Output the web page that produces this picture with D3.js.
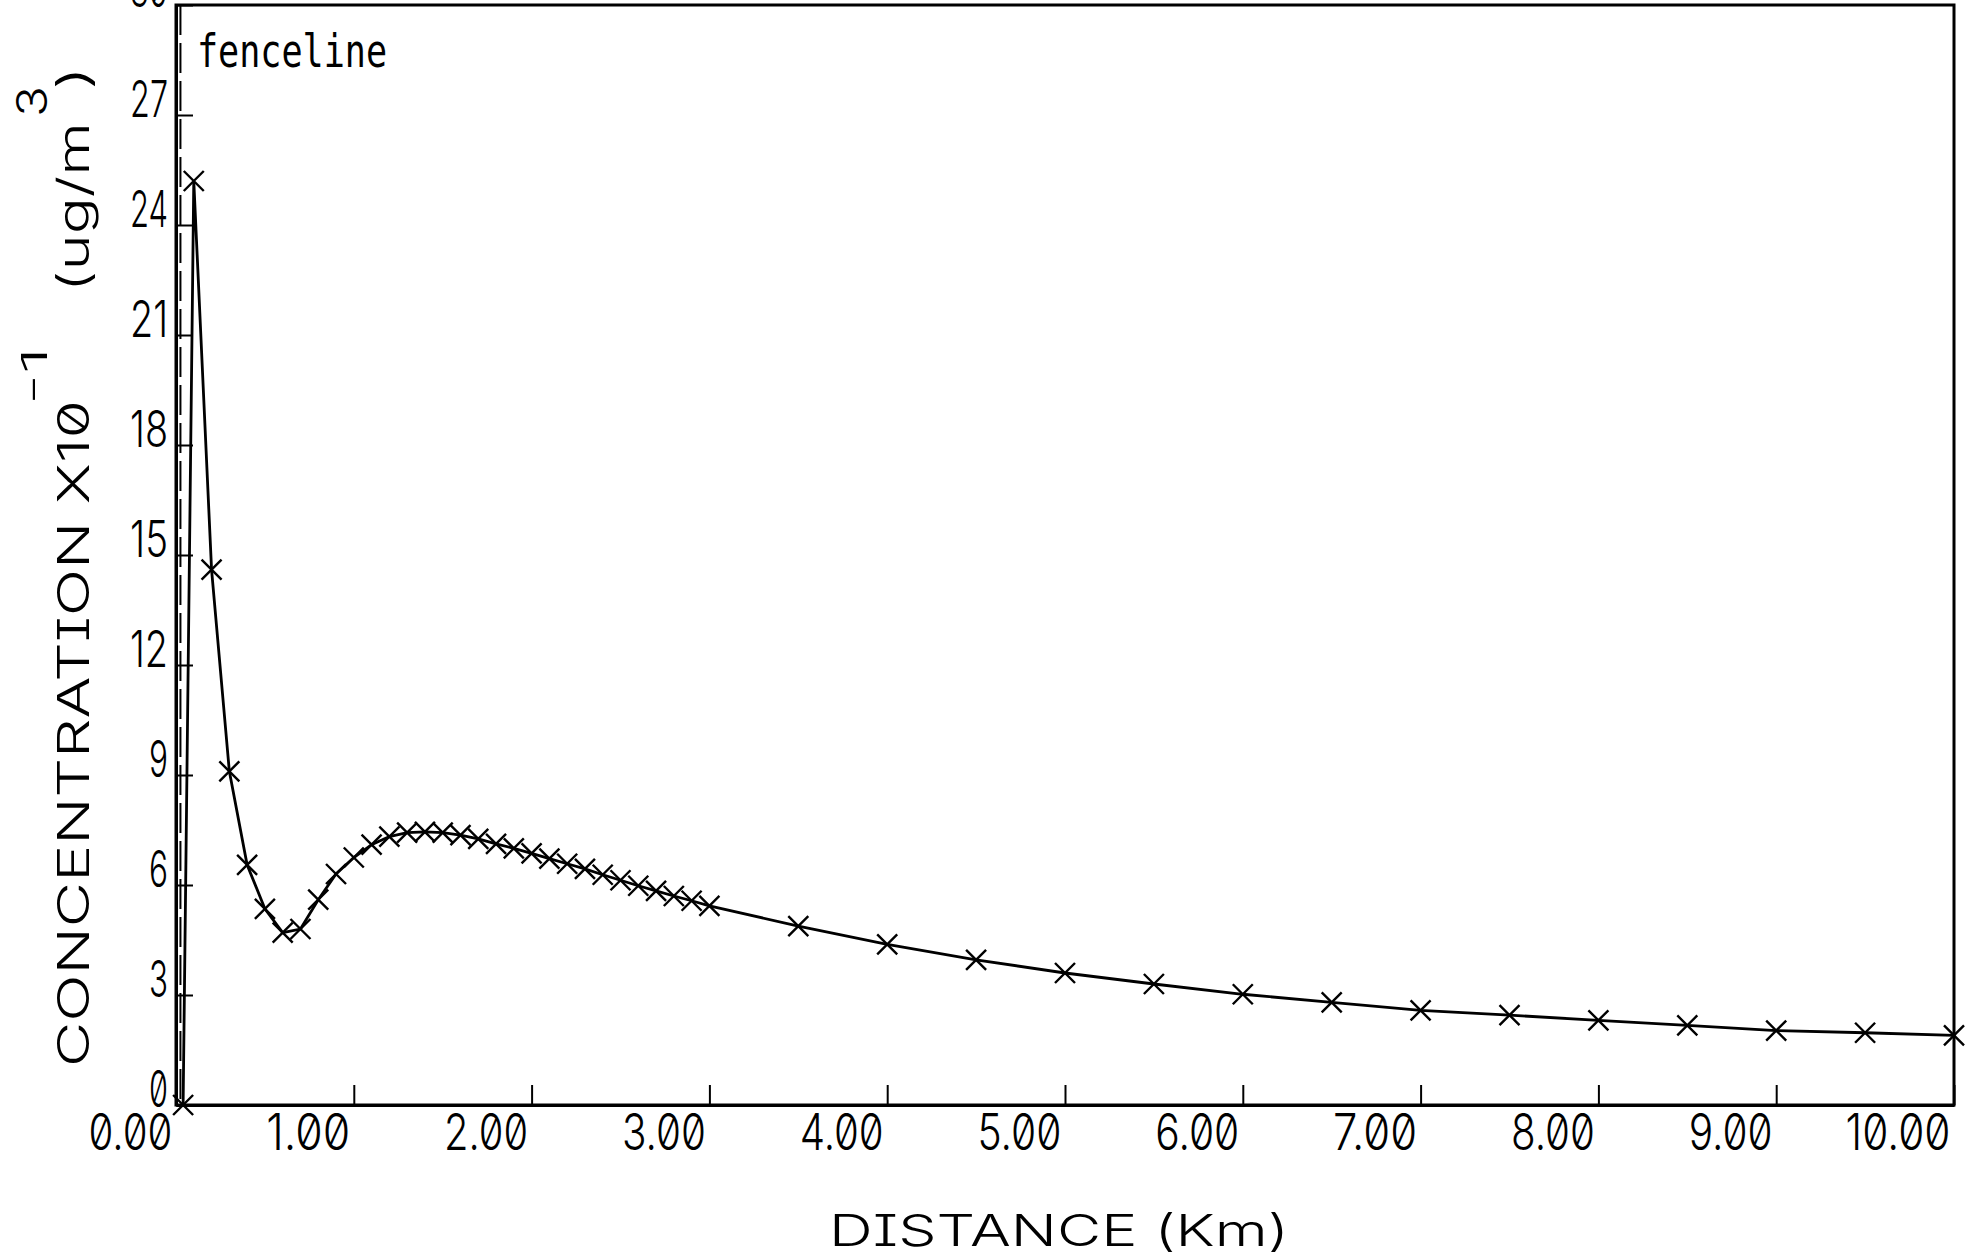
<!DOCTYPE html>
<html>
<head>
<meta charset="utf-8">
<title>Concentration vs distance</title>
<script src="https://d3js.org/d3.v7.min.js"></script>
<style>
  body { margin: 0; background: #fff; }
  svg text {
    font-family: Inter, "DejaVu Sans", sans-serif;
    font-weight: 300;
    font-feature-settings: "zero" 1, "cv08" 1;
    fill: #000;
  }
</style>
</head>
<body>
<script>

  // distance from source (km) and concentration (x10^-1 ug/m3)
  var distance = [0.04, 0.1, 0.2, 0.3, 0.4, 0.5, 0.6, 0.7, 0.8, 0.9, 1.0,
                  1.1, 1.2, 1.3, 1.4, 1.5, 1.6, 1.7, 1.8, 1.9, 2.0,
                  2.1, 2.2, 2.3, 2.4, 2.5, 2.6, 2.7, 2.8, 2.9, 3.0,
                  3.5, 4.0, 4.5, 5.0, 5.5, 6.0, 6.5, 7.0, 7.5, 8.0, 8.5, 9.0, 9.5, 10.0];
  var concentration = [0, 25.2, 14.6, 9.1, 6.55, 5.35, 4.7, 4.8, 5.6, 6.3, 6.75,
                  7.1, 7.32, 7.43, 7.45, 7.43, 7.36, 7.26, 7.12, 7.0, 6.86,
                  6.72, 6.58, 6.44, 6.28, 6.13, 5.98, 5.84, 5.7, 5.57, 5.43,
                  4.88, 4.38, 3.96, 3.6, 3.3, 3.02, 2.8, 2.58, 2.45, 2.31, 2.17, 2.03, 1.97, 1.9];

  var xTicks = [0, 1, 2, 3, 4, 5, 6, 7, 8, 9, 10];
  var yTicks = [0, 3, 6, 9, 12, 15, 18, 21, 24, 27, 30];
  var fenceline = 0.025;   // km

  var W = 1979, H = 1259;

  var x = d3.scaleLinear().domain([0, 10]).range([176, 1954]);
  var y = d3.scaleLinear().domain([0, 30]).range([1105, 5]);

  var svg = d3.select("body").append("svg")
    .attr("width", W)
    .attr("height", H);

  // frame
  svg.append("rect")
    .attr("x", x(0))
    .attr("y", y(30))
    .attr("width", x(10) - x(0))
    .attr("height", y(0) - y(30))
    .attr("fill", "none")
    .attr("stroke", "#000")
    .attr("stroke-width", 3);

  // y axis, ticks pointing inward, labels sitting on the tick
  var yAxis = svg.append("g")
    .attr("transform", "translate(" + x(0) + ",0)")
    .attr("font-size", null)
    .attr("font-family", null)
    .call(d3.axisLeft(y)
      .tickValues(yTicks)
      .tickSizeInner(-17)
      .tickSizeOuter(0)
      .tickPadding(8)
      .tickFormat(d3.format("d")));
  yAxis.select(".domain").attr("stroke-width", 3);
  yAxis.selectAll(".tick line").attr("stroke-width", 2);
  yAxis.selectAll(".tick text")
    .attr("dy", "0.02em")
    .attr("font-size", 51)
    .attr("textLength", function(d) { return String(d).length * 19; })
    .attr("lengthAdjust", "spacingAndGlyphs");

  // x axis
  var xAxis = svg.append("g")
    .attr("transform", "translate(0," + y(0) + ")")
    .attr("font-size", null)
    .attr("font-family", null)
    .call(d3.axisBottom(x)
      .tickValues(xTicks)
      .tickSizeInner(-20)
      .tickSizeOuter(0)
      .tickFormat(d3.format(".2f")));
  xAxis.select(".domain").attr("stroke-width", 3);
  xAxis.selectAll(".tick line").attr("stroke-width", 2);
  xAxis.selectAll(".tick text")
    .attr("text-anchor", "end")
    .attr("x", -4)
    .attr("y", 45)
    .attr("dy", 0)
    .attr("font-size", 51)
    .attr("textLength", function(d) { return d3.format(".2f")(d).length * 21; })
    .attr("lengthAdjust", "spacingAndGlyphs");

  // fenceline
  svg.append("line")
    .attr("x1", x(fenceline)).attr("x2", x(fenceline))
    .attr("y1", y(30)).attr("y2", y(0))
    .attr("stroke", "#000")
    .attr("stroke-width", 2)
    .attr("stroke-dasharray", "30,8");

  svg.append("text")
    .attr("x", 197)
    .attr("y", 67)
    .attr("font-size", 46)
    .style("font-family", "'DejaVu Sans Mono', monospace")
    .style("font-weight", 400)
    .attr("textLength", 190)
    .attr("lengthAdjust", "spacingAndGlyphs")
    .text("fenceline");

  // curve
  var pts = distance.map(function(d, i) { return [d, concentration[i]]; });

  var line = d3.line()
    .x(function(d) { return x(d[0]); })
    .y(function(d) { return y(d[1]); });

  svg.append("path")
    .datum(pts)
    .attr("fill", "none")
    .attr("stroke", "#000")
    .attr("stroke-width", 2.8)
    .attr("d", line);

  svg.selectAll(".mark")
    .data(pts)
    .enter().append("path")
    .attr("class", "mark")
    .attr("transform", function(d) { return "translate(" + x(d[0]) + "," + y(d[1]) + ")"; })
    .attr("d", "M-10,-10L10,10M-10,10L10,-10")
    .attr("fill", "none")
    .attr("stroke", "#000")
    .attr("stroke-width", 2.4);

  // axis titles
  svg.append("text")
    .attr("x", 829)
    .attr("y", 1246)
    .attr("font-size", 44)
    .attr("textLength", 460)
    .attr("lengthAdjust", "spacingAndGlyphs")
    .text("DISTANCE (Km)");

  // y title is built from pieces so the exponents sit where they do in the plot
  var yTitle = [
    { t: "CONCENTRATION X10", bx: 89, by: 1067, len: 667, fs: 44 },
    { t: "-1",                bx: 47, by: 405,  len: 58,  fs: 36 },
    { t: "(ug/m",             bx: 89, by: 292,  len: 170, fs: 44 },
    { t: "3",                 bx: 47, by: 117,  len: 31,  fs: 42 },
    { t: ")",                 bx: 89, by: 90,   len: 24,  fs: 44 }
  ];

  svg.selectAll(".ytitle")
    .data(yTitle)
    .enter().append("text")
    .attr("class", "ytitle")
    .attr("transform", function(d) { return "translate(" + d.bx + "," + d.by + ") rotate(-90)"; })
    .attr("font-size", function(d) { return d.fs; })
    .attr("textLength", function(d) { return d.len; })
    .attr("lengthAdjust", "spacingAndGlyphs")
    .text(function(d) { return d.t; });

</script>
</body>
</html>
